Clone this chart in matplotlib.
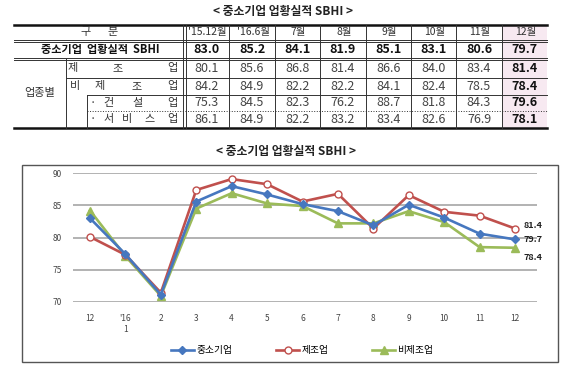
import matplotlib.pyplot as plt
from matplotlib.patches import Rectangle

plt.rcParams['font.family'] = ['Noto Sans CJK KR', 'DejaVu Sans']

# table data
col_heads = ["'15.12월", "'16.6월", "7월", "8월", "9월", "10월", "11월", "12월"]
sbhi_row = [83.0, 85.2, 84.1, 81.9, 85.1, 83.1, 80.6, 79.7]
mfg_row = [80.1, 85.6, 86.8, 81.4, 86.6, 84.0, 83.4, 81.4]
nonmfg_row = [84.2, 84.9, 82.2, 82.2, 84.1, 82.4, 78.5, 78.4]
constr_row = [75.3, 84.5, 82.3, 76.2, 88.7, 81.8, 84.3, 79.6]
service_row = [86.1, 84.9, 82.2, 83.2, 83.4, 82.6, 76.9, 78.1]

# chart data (monthly, Dec 2015 - Dec 2016)
months = ['12', "'16\n1", '2', '3', '4', '5', '6', '7', '8', '9', '10', '11', '12']
sbhi = [83.0, 77.4, 71.1, 85.6, 88.0, 86.7, 85.2, 84.1, 81.9, 85.1, 83.1, 80.6, 79.7]
mfg = [80.1, 77.3, 71.4, 87.4, 89.1, 88.3, 85.6, 86.8, 81.4, 86.6, 84.0, 83.4, 81.4]
nonmfg = [84.2, 77.1, 70.9, 84.5, 86.9, 85.3, 84.9, 82.2, 82.2, 84.1, 82.4, 78.5, 78.4]

fig = plt.figure(figsize=(5.67, 3.68), dpi=100)

# overlay in pixel coords for table and frame
ov = fig.add_axes([0, 0, 1, 1])
ov.set_xlim(0, 567)
ov.set_ylim(368, 0)
ov.axis('off')

title = '< 중소기업 업황실적 SBHI >'
ov.text(283, 11, title, ha='center', va='center', fontsize=8.5, fontweight='bold', color='#222')
ov.text(286, 151, title, ha='center', va='center', fontsize=8.5, fontweight='bold', color='#222')

xe = [184, 229, 275, 320, 366, 411, 456, 502, 547]
ye = [25, 40, 59, 77.5, 94.5, 111, 127.5]
lc = '#333333'

# pink highlight for last column
ov.add_patch(Rectangle((xe[-2], ye[0]), xe[-1] - xe[-2], ye[-1] - ye[0],
                       facecolor='#f7e9f1', edgecolor='none'))

# horizontal lines
ov.plot([14, 547], [ye[0], ye[0]], color='#111', lw=1.8)
ov.plot([14, 547], [ye[-1], ye[-1]], color='#111', lw=1.8)
ov.plot([14, 547], [ye[1], ye[1]], color=lc, lw=0.7)
ov.plot([14, 547], [ye[1] + 2, ye[1] + 2], color=lc, lw=0.7)
ov.plot([14, 547], [ye[2] - 1, ye[2] - 1], color=lc, lw=0.7)
ov.plot([14, 547], [ye[2] + 1, ye[2] + 1], color=lc, lw=0.7)
ov.plot([66, 547], [ye[3], ye[3]], color=lc, lw=0.7)
ov.plot([87, 547], [ye[4], ye[4]], color=lc, lw=0.7)
ov.plot([87, 547], [ye[5], ye[5]], color=lc, lw=0.7, ls=':')

# vertical lines
ov.plot([66, 66], [ye[2], ye[-1]], color=lc, lw=0.7)
ov.plot([87, 87], [ye[4], ye[-1]], color=lc, lw=0.7)
ov.plot([xe[0] - 1.5, xe[0] - 1.5], [ye[0], ye[-1]], color=lc, lw=0.7)
ov.plot([xe[0] + 1.5, xe[0] + 1.5], [ye[0], ye[-1]], color=lc, lw=0.7)
for x in xe[1:-1]:
    ov.plot([x, x], [ye[0], ye[-1]], color=lc, lw=0.7)

# row labels
ov.text(86, (ye[0] + ye[1]) / 2, '구', ha='center', va='center', fontsize=8, color='#333')
ov.text(113, (ye[0] + ye[1]) / 2, '분', ha='center', va='center', fontsize=8, color='#333')
ov.text(100, (ye[1] + ye[2]) / 2, '중소기업  업황실적  SBHI', ha='center', va='center',
        fontsize=8, fontweight='bold', color='#111')
ov.text(40, (ye[2] + ye[-1]) / 2, '업종별', ha='center', va='center', fontsize=8, color='#333')
row_chars = [
    [(73, '제'), (118, '조'), (172, '업')],
    [(75, '비'), (100, '제'), (137, '조'), (172, '업')],
    [(93, '·'), (108, '건'), (138, '설'), (172, '업')],
    [(93, '·'), (109, '서'), (127, '비'), (150, '스'), (172, '업')],
]
for i, chars in enumerate(row_chars):
    yc = (ye[2 + i] + ye[3 + i]) / 2
    for x, ch in chars:
        ov.text(x, yc, ch, ha='center', va='center', fontsize=8, color='#333')

# column headers and values
rows = [sbhi_row, mfg_row, nonmfg_row, constr_row, service_row]
for j in range(len(col_heads)):
    xc = (xe[j] + xe[j + 1]) / 2
    ov.text(xc + 1, (ye[0] + ye[1]) / 2, col_heads[j], ha='center', va='center', fontsize=7.5, color='#333')
    for i, r in enumerate(rows):
        yc = (ye[1 + i] + ye[2 + i]) / 2
        bold = i == 0 or j == len(col_heads) - 1
        ov.text(xc, yc, f'{r[j]:.1f}', ha='center', va='center', fontsize=9,
                fontweight='bold' if bold else 'normal', color='#111' if bold else '#444')

# chart frame
ov.add_patch(Rectangle((22, 165), 536, 197, facecolor='none', edgecolor='#555', lw=1.0))

# line chart
ax = fig.add_axes([73 / 567, 66.3 / 368, 464 / 567, 128.4 / 368])
ax.set_facecolor('none')
x = list(range(len(months)))
ax.plot(x, sbhi, color='#4677bf', lw=1.9, marker='D', ms=4.5, label='중소기업', zorder=4)
ax.plot(x, mfg, color='#c0504d', lw=1.9, marker='o', ms=5, mfc='white', mec='#c0504d',
        mew=1.0, label='제조업', zorder=3)
ax.plot(x, nonmfg, color='#9bbb59', lw=1.9, marker='^', ms=5.5, label='비제조업', zorder=2)

ax.set_xlim(-0.48, 12.62)
ax.set_ylim(70, 90)
ax.set_yticks([70, 75, 80, 85, 90])
ax.set_xticks(x)
ax.set_xticklabels(months)
ax.yaxis.grid(True, color='#a6a6a6', lw=1.2)
ax.set_axisbelow(True)
for s in ax.spines.values():
    s.set_visible(False)
ax.tick_params(axis='both', length=0, labelsize=6, colors='#444')
ax.tick_params(axis='x', pad=9)
ax.tick_params(axis='y', pad=8)

ax.annotate(f'{mfg[-1]:.1f}', (x[-1], mfg[-1]), xytext=(6, 2), textcoords='offset points',
            ha='left', va='center', fontsize=6.5, fontweight='bold', color='#222')
ax.annotate(f'{sbhi[-1]:.1f}', (x[-1], sbhi[-1]), xytext=(6, 0), textcoords='offset points',
            ha='left', va='center', fontsize=6.5, fontweight='bold', color='#222')
ax.annotate(f'{nonmfg[-1]:.1f}', (x[-1], nonmfg[-1]), xytext=(6, -7), textcoords='offset points',
            ha='left', va='center', fontsize=6.5, fontweight='bold', color='#222')

fig.legend(loc='center', bbox_to_anchor=(302 / 567, 17.5 / 368), ncol=3, frameon=False,
           fontsize=7, handlelength=2.4, columnspacing=4.5, handletextpad=0.2)

fig.savefig('out.png', dpi=100)
